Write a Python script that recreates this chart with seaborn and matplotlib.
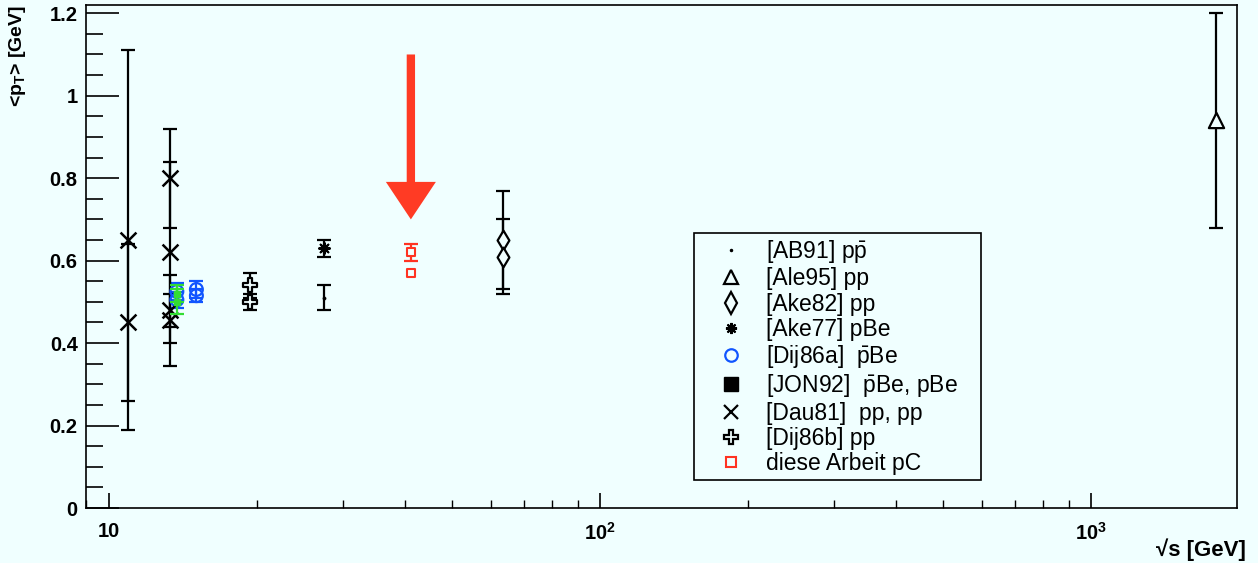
import matplotlib
matplotlib.use("Agg")
import matplotlib.pyplot as plt
import seaborn as sns
import pandas as pd
from matplotlib.lines import Line2D
from matplotlib.ticker import (FixedLocator, MultipleLocator, FuncFormatter,
                               LogLocator, NullFormatter, FixedFormatter)

BG = "#f0ffff"

# sqrt(s) [GeV], <pT> [GeV], error [GeV]
ab91_x = [27.4]
ab91_y = [0.51]
ab91_e = [0.03]

ale95_x = [1795]
ale95_y = [0.94]
ale95_e = [0.26]

ake82_x = [63.4, 63.4]
ake82_y = [0.65, 0.61]
ake82_e = [0.12, 0.09]

ake77_x = [27.4]
ake77_y = [0.63]
ake77_e = [0.02]

dij86a_x = [13.75, 13.75, 15.07, 15.07]
dij86a_y = [0.525, 0.505, 0.53, 0.515]
dij86a_e = [0.02, 0.02, 0.02, 0.015]

jon92_x = [13.75, 13.75]
jon92_y = [0.52, 0.50]
jon92_e = [0.02, 0.03]

dau81_x = [10.93, 10.93, 13.3, 13.3, 13.3, 13.3]
dau81_y = [0.65, 0.45, 0.80, 0.62, 0.48, 0.455]
dau81_e = [0.46, 0.19, 0.12, 0.22, 0.04, 0.11]

dij86b_x = [19.4, 19.4]
dij86b_y = [0.54, 0.50]
dij86b_e = [0.03, 0.02]

this_x = [41.2, 41.2]
this_y = [0.62, 0.57]
this_e = [0.02, 0.0]

arrow_x = 41.2
arrow_from = 1.10
arrow_to = 0.70

x_ticks = [10, 100, 1000]
x_ticklabels = ["10", r"$\mathbf{10^{2}}$", r"$\mathbf{10^{3}}$"]

sns.set_theme(style="ticks")
plt.rcParams["font.family"] = ["Liberation Sans", "DejaVu Sans"]
plt.rcParams["mathtext.fontset"] = "custom"
plt.rcParams["mathtext.rm"] = "Liberation Sans"
plt.rcParams["mathtext.bf"] = "Liberation Sans:bold"
plt.rcParams["mathtext.it"] = "Liberation Sans:italic"
for key in ["text.color", "axes.labelcolor", "xtick.color", "ytick.color", "axes.edgecolor"]:
    plt.rcParams[key] = "black"

fig = plt.figure(figsize=(12.58, 5.63), dpi=100, facecolor=BG)
ax = fig.add_axes([86 / 1258, 55 / 563, 1151 / 1258, 503 / 563], facecolor=BG)

# (label, x, y, err, marker, size, face, edge, lw, errcolor, zorder)
series = [
    ("[AB91] p$\\bar{\\mathrm{p}}$", ab91_x, ab91_y, ab91_e, "o", 5, "black", "black", 0.5, "black", 3),
    ("[Ale95] pp", ale95_x, ale95_y, ale95_e, "^", 120, BG, "black", 1.6, "black", 3),
    ("[Ake82] pp", ake82_x, ake82_y, ake82_e, "d", 100, BG, "black", 1.6, "black", 3),
    ("[Ake77] pBe", ake77_x, ake77_y, ake77_e, (8, 2, 0), 60, "black", "black", 1.5, "black", 3),
    ("[Dij86a]  $\\bar{\\mathrm{p}}$Be", dij86a_x, dij86a_y, dij86a_e, "o", 85, "none", "#1155ff", 1.6, "#1155ff", 3),
    ("[JON92]  $\\bar{\\mathrm{p}}$Be, pBe", jon92_x, jon92_y, jon92_e, "s", 14, "#33dd33", "#33dd33", 1.0, "#33dd33", 5),
    ("[Dau81]  pp, pp", dau81_x, dau81_y, dau81_e, "x", 130, "black", "black", 1.8, "black", 3),
    ("[Dij86b] pp", dij86b_x, dij86b_y, dij86b_e, "P", 110, BG, "black", 1.6, "black", 3),
    ("diese Arbeit pC", this_x, this_y, this_e, "s", 40, BG, "#ff3322", 1.5, "#ff3322", 3),
]

for label, xs, ys, es, marker, size, face, edge, lw, ecol, z in series:
    df = pd.DataFrame({"x": xs, "y": ys, "e": es})
    err = df[df["e"] > 0]
    ax.errorbar(err["x"], err["y"], yerr=err["e"], fmt="none", ecolor=ecol,
                elinewidth=1.6, capsize=5, capthick=1.6, zorder=z - 1)
    if marker == "x":
        sns.scatterplot(data=df, x="x", y="y", ax=ax, marker=marker, s=size,
                        color=edge, linewidth=lw, zorder=z, legend=False)
    else:
        sns.scatterplot(data=df, x="x", y="y", ax=ax, marker=marker, s=size,
                        facecolor=face, edgecolor=edge, linewidth=lw, zorder=z,
                        legend=False)

# arrow pointing at this measurement
ax.annotate("", xy=(arrow_x, arrow_to), xytext=(arrow_x, arrow_from),
            arrowprops=dict(facecolor="#ff3b24", edgecolor="none", width=6,
                            headwidth=36, headlength=27, shrink=0))

ax.set_xscale("log")
ax.set_xlim(8.98, 1983)
ax.set_ylim(0, 1.22)
ax.set_xlabel("")
ax.set_ylabel("")

ax.yaxis.set_major_locator(MultipleLocator(0.2))
ax.yaxis.set_minor_locator(MultipleLocator(0.05))
ax.yaxis.set_major_formatter(FuncFormatter(lambda v, p: f"{v:g}"))
ax.xaxis.set_major_locator(FixedLocator(x_ticks))
ax.xaxis.set_major_formatter(FixedFormatter(x_ticklabels))
ax.xaxis.set_minor_locator(LogLocator(base=10, subs=range(2, 10)))
ax.xaxis.set_minor_formatter(NullFormatter())

ax.tick_params(axis="y", which="major", direction="in", length=24, width=1.2,
               labelsize=14.5, pad=6, color="black", labelcolor="black")
ax.tick_params(axis="y", which="minor", direction="in", length=12, width=1.2, color="black")
ax.tick_params(axis="x", which="major", direction="in", length=11, width=1.2,
               labelsize=14.5, pad=10, color="black", labelcolor="black")
ax.tick_params(axis="x", which="minor", direction="in", length=6, width=1.0, color="black")
ax.tick_params(top=False, right=False)
for lab in ax.get_xticklabels() + ax.get_yticklabels():
    lab.set_fontweight("bold")
for sp in ax.spines.values():
    sp.set_visible(True)
    sp.set_color("black")
    sp.set_linewidth(1.2)

handles = [
    Line2D([], [], ls="none", marker=".", ms=3, color="black"),
    Line2D([], [], ls="none", marker="^", ms=10, mfc="none", mec="black", mew=1.6),
    Line2D([], [], ls="none", marker="d", ms=11, mfc="none", mec="black", mew=1.6),
    Line2D([], [], ls="none", marker=(8, 2, 0), ms=8, color="black", mew=1.5),
    Line2D([], [], ls="none", marker="o", ms=9, mfc="none", mec="#1155ff", mew=1.6),
    Line2D([], [], ls="none", marker="s", ms=10, mfc="black", mec="black"),
    Line2D([], [], ls="none", marker="x", ms=10, color="black", mew=1.6),
    Line2D([], [], ls="none", marker="P", ms=10, mfc="none", mec="black", mew=1.6),
    Line2D([], [], ls="none", marker="s", ms=7, mfc="none", mec="#ff3322", mew=1.5),
]
labels = [s[0] for s in series]
leg = ax.legend(handles, labels, loc="upper left",
                bbox_to_anchor=(694 / 1258, (563 - 234) / 563, 287 / 1258, 0.001),
                bbox_transform=fig.transFigure, mode="expand", borderaxespad=0,
                frameon=True, fancybox=False, edgecolor="black", facecolor=BG,
                framealpha=1, fontsize=16.5, handlelength=2.85, handletextpad=0.1,
                borderpad=0.2, labelspacing=0.1, labelcolor="black")
leg.get_frame().set_linewidth(1.2)

fig.text(18 / 1258, 1 - 5 / 563, r"<$\mathbf{p_{T}}$> [GeV]", rotation=90,
         ha="center", va="top", fontsize=14, fontweight="bold", color="black")
fig.text(1246 / 1258, 1 - 550 / 563, "√s [GeV]", ha="right", va="center",
         fontsize=16, fontweight="bold", color="black")

fig.savefig("out.png", dpi=100, facecolor=BG)
